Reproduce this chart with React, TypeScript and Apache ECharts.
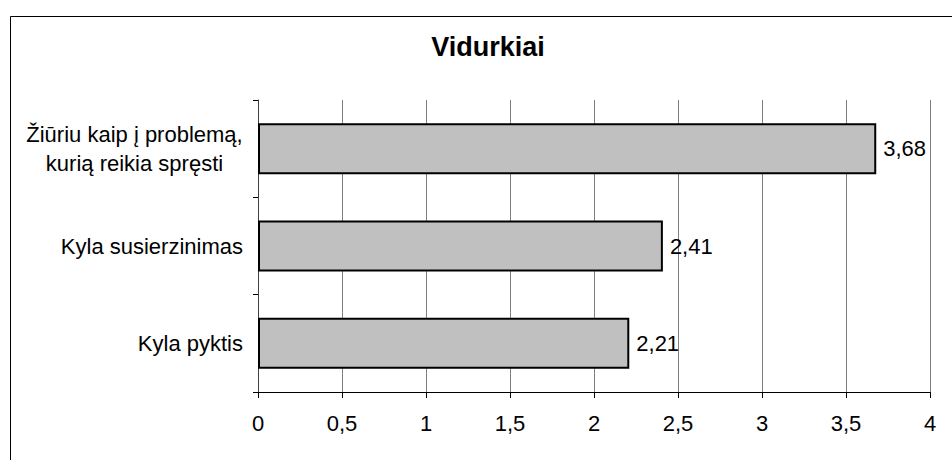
import React, { useEffect, useRef } from "react";
import * as echarts from "echarts";

const categories = ["Žiūriu kaip į problemą,\nkurią reikia spręsti", "Kyla susierzinimas", "Kyla pyktis"];
const values = [3.68, 2.41, 2.21];
const xTicks = [0, 0.5, 1, 1.5, 2, 2.5, 3, 3.5, 4];
const titleText = "Vidurkiai";

const FONT = "'Liberation Sans', Arial, sans-serif";
const LABEL_SIZE = 22;

function measure(text: string, font: string): number {
  const c = document.createElement("canvas");
  const ctx = c.getContext("2d");
  if (!ctx) return text.length * 10;
  ctx.font = font;
  return ctx.measureText(text).width;
}

export default function App() {
  const ref = useRef<HTMLDivElement>(null);
  useEffect(() => {
    document.body.style.margin = "0";
    if (!ref.current) return;
    const chart = echarts.init(ref.current, null, { renderer: "svg" });
    const lineW = Math.ceil(
      Math.max(...categories[0].split("\n").map((l) => measure(l, `${LABEL_SIZE}px ${FONT}`)))
    );
    const fmt = (v: number) => String(v).replace(".", ",");
    chart.setOption({
      animation: false,
      backgroundColor: "#fff",
      graphic: [
        {
          type: "rect",
          shape: { x: 10.5, y: 16.5, width: 980, height: 480 },
          style: { fill: "none", stroke: "#000", lineWidth: 1 },
          silent: true,
        },
        {
          type: "text",
          x: 488,
          y: 47,
          style: {
            text: titleText,
            font: `bold 27px ${FONT}`,
            fill: "#000",
            textAlign: "center",
            textVerticalAlign: "middle",
          },
        },
      ],
      grid: { left: 258, right: 22, top: 100, bottom: 68 },
      xAxis: {
        type: "value",
        min: xTicks[0],
        max: xTicks[xTicks.length - 1],
        interval: 0.5,
        axisLine: { show: true, lineStyle: { color: "#000", width: 1 } },
        axisTick: { show: true, length: 6, lineStyle: { color: "#000" } },
        axisLabel: {
          margin: 20,
          color: "#000",
          fontFamily: FONT,
          fontSize: LABEL_SIZE,
          formatter: (v: number) => fmt(v),
        },
        splitLine: { show: true, lineStyle: { color: "#808080", width: 1 } },
      },
      yAxis: {
        type: "category",
        data: categories,
        inverse: true,
        axisLine: { show: true, lineStyle: { color: "#404040", width: 1 } },
        axisTick: { show: true, length: 5, lineStyle: { color: "#000" } },
        axisLabel: {
          margin: 15,
          color: "#000",
          fontFamily: FONT,
          fontSize: LABEL_SIZE,
          lineHeight: 29,
          formatter: (v: string) => {
            if (v.indexOf("\n") >= 0) {
              return v
                .split("\n")
                .map((l) => `{c|${l}}`)
                .join("\n");
            }
            return v;
          },
          rich: {
            c: {
              width: lineW,
              align: "center",
              fontFamily: FONT,
              fontSize: LABEL_SIZE,
              lineHeight: 29,
              color: "#000",
            },
          },
        },
      },
      series: [
        {
          type: "bar",
          data: values,
          barWidth: 51,
          itemStyle: { color: "#c0c0c0", borderColor: "#000", borderWidth: 2 },
          label: {
            show: true,
            position: "right",
            distance: 7,
            color: "#000",
            fontFamily: FONT,
            fontSize: LABEL_SIZE,
            formatter: (p: any) => fmt(p.value),
          },
        },
      ],
    });
    return () => chart.dispose();
  }, []);
  return <div ref={ref} style={{ width: 952, height: 460 }} />;
}
